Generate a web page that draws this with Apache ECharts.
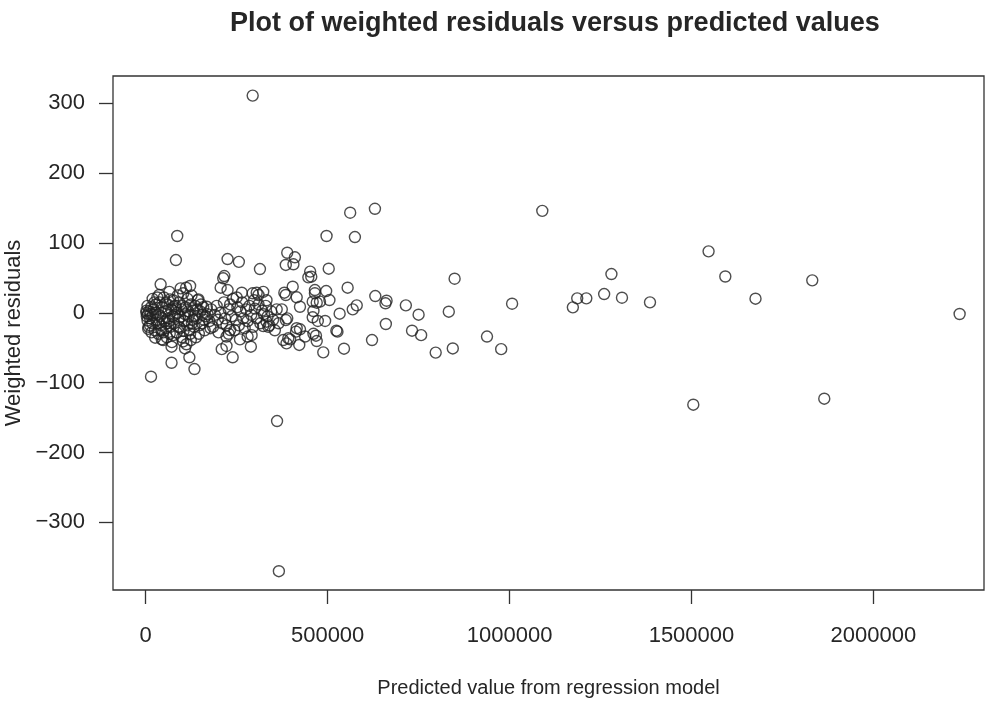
<!DOCTYPE html>
<html>
<head>
<meta charset="utf-8">
<script src="https://cdn.jsdelivr.net/npm/echarts@6/dist/echarts.min.js"></script>
<style>
  html, body { margin: 0; padding: 0; background: #fff; }
  #chart { width: 985px; height: 701px; }
</style>
</head>
<body>
<div id="chart"></div>
<script>
// Sparse / outlying points (predicted value, weighted residual)
const sparsePoints = [
  [294000,311],[361000,-155],[366000,-370],[1090000,146],[1547000,88],[1280000,55.5],[1593000,52],
  [1832000,46.5],[1186000,20.7],[1211000,20.7],[1174000,7.8],[1260000,26.9],[1309000,21.6],[1386000,15],
  [1676000,20.2],[2237000,-1.7],[1505000,-131.6],[1865000,-123]
];
// Mid-range points (roughly 300k - 1M)
const midPoints = [
  [497000,110],[575000,108.5],[503000,63.2],[849000,48.8],[496000,31.2],[555000,36],[505000,18.3],
  [631000,24],[662000,17.3],[659000,13.6],[580000,10.7],[569000,5],[715000,10.7],[1007000,13],
  [533000,-1.3],[750000,-2.7],[833000,1.6],[493000,-11.7],[479000,16],[660000,-16],[524000,-25.6],
  [527000,-27],[732000,-25.6],[757000,-32],[622000,-39],[488000,-56.6],[545000,-51.4],[797000,-57],
  [844000,-51],[938000,-34],[977000,-52],[562000,143.3],[630000,149],
  [314000,62.7],[389000,86],[410000,79.5],[385000,68.5],[406000,69.5],[452000,59],[455000,51.7],
  [447000,50.8],[404000,37.4],[381000,28.8],[385000,25.5],[415000,22.2],[424000,8.7],[465000,32.6],
  [465000,28],[459000,16],[470000,14.5],[461000,2.6],[459000,-6.4],[473000,-11.7],[374000,5],
  [389000,-7.9],[385000,-10.3],[415000,-22],[424000,-23.6],[413000,-27],[392000,-36.5],[378000,-39],
  [387000,-43.7],[397000,-38],[422000,-46],[438000,-34],[468000,-32.8],[470000,-40.4],[461000,-30],
  [323000,-19],[332000,-12.7],[337000,-20],[305000,28.8],[323000,30],[332000,18],[259000,-38],
  [280000,-34],[291000,-32]
];
// Low-range points (0 - 300k) outside the densest core
const lowPoints = [
  [86600,110],[83000,75.6],[225000,77],[256000,73],[41000,40.8],[122000,38.4],[111000,36],
  [216000,52.7],[213000,49.4],[206000,36],[225000,32.6],[264000,28.8],[250000,22],[294000,28],
  [310000,25.5],[298000,18],[37000,25.5],[67000,19.3],[145000,19.3],[168000,8.7],[2000,0],
  [5000,-11],[7000,-23],[14600,-91.5],[71000,-71.5],[120000,-63.7],[134000,-80.5],[239000,-63.7],
  [209000,-52],[222000,-47.5],[108000,-51],[124000,-39],[103000,-41],[71000,-48.5],[26000,-35.6],
  [48000,-39],[289000,-48.5],[232000,-24.6],[222000,-34]
];
// Dense core cluster
const corePoints = [
  [2000,3],[3000,-5],[8000,-20],[10000,2],[12000,-8],[15000,8],[18000,-15],[20000,-3],[22000,5],
  [25000,-25],[28000,12],[30000,-10],[12000,-18],[6000,-2],[32000,22],[35000,-30],[38000,15],
  [40000,-5],[42000,-18],[45000,8],[48000,-28],[50000,22],[52000,-12],[55000,2],[58000,-35],
  [60000,12],[34000,-2],[44000,-38],[56000,-22],[62000,-8],[65000,30],[68000,-20],[70000,5],
  [72000,-42],[75000,18],[78000,-15],[80000,-3],[82000,10],[85000,-28],[88000,25],[90000,-10],
  [66000,-30],[74000,-5],[86000,0],[92000,15],[95000,-22],[98000,5],[100000,-35],[103000,28],
  [106000,-12],[110000,8],[112000,-45],[115000,20],[118000,-5],[120000,-25],[124000,12],
  [127000,-15],[130000,3],[96000,35],[108000,-2],[122000,-30],[133000,-20],[136000,10],
  [140000,-8],[143000,18],[146000,-30],[150000,2],[155000,-15],[158000,8],[162000,-25],
  [165000,-5],[170000,-2],[138000,-35],[175000,-12],[180000,5],[185000,-20],[190000,-3],
  [195000,10],[200000,-28],[205000,0],[210000,-15],[215000,15],[218000,-8],[178000,-22],
  [198000,-10],[222000,-18],[228000,5],[228000,-30],[232000,12],[236000,-5],[240000,20],
  [244000,-25],[248000,-10],[252000,8],[256000,-18],[260000,2],[265000,15],[268000,-8],
  [272000,-22],[276000,5],[280000,-12],[285000,10],[290000,-3],[295000,-20],[300000,6],
  [305000,-8],[310000,12],[315000,-15],[320000,3],[325000,-2],[330000,10],[335000,-5],
  [340000,-18],[345000,2],[350000,-10],[355000,-25],[360000,5],[365000,-15],
  [5000,10],[16000,-28],[24000,15],[36000,-15],[46000,-8],[54000,14],[64000,-12],[76000,-32],
  [84000,6],[94000,-6],[102000,10],[114000,-18],[126000,25],[134000,-4],[148000,-18],
  [152000,12],[160000,-10],[14000,-2],[27000,0],[43000,-25],[63000,4],[77000,9],[104000,-26],
  [117000,2],[19000,20],[57000,-15],[91000,-20],[129000,-10],[142000,5],[156000,-3]
];
const xTicks = [0, 500000, 1000000, 1500000, 2000000];
const yTicks = [-300, -200, -100, 0, 100, 200, 300];

const allPoints = sparsePoints.concat(midPoints, lowPoints, corePoints);
const ink = '#262626';
const font = 'Liberation Sans, Arial, Helvetica, sans-serif';

const chart = echarts.init(document.getElementById('chart'), null, { renderer: 'canvas' });
chart.setOption({
  animation: false,
  backgroundColor: '#ffffff',
  title: {
    text: 'Plot of weighted residuals versus predicted values',
    left: 225,
    top: 5,
    textStyle: { fontFamily: font, fontSize: 27, fontWeight: 'bold', color: ink }
  },
  grid: {
    left: 113, top: 76, right: 1, bottom: 111,
    containLabel: false,
    outerBoundsMode: 'none',
    show: true, borderColor: '#333', borderWidth: 1.3, backgroundColor: 'transparent'
  },
  xAxis: {
    type: 'value',
    min: -89900,
    max: 2304000,
    name: 'Predicted value from regression model',
    nameLocation: 'middle',
    nameGap: 88,
    nameTextStyle: { fontFamily: font, fontSize: 20, color: ink },
    axisLine: { show: false, onZero: false },
    splitLine: { show: false },
    axisTick: { show: true, length: 14, inside: false, customValues: xTicks,
      lineStyle: { color: '#333', width: 1.3 } },
    axisLabel: { customValues: xTicks, margin: 35, fontFamily: font, fontSize: 22, color: ink,
      formatter: v => String(v) }
  },
  yAxis: {
    type: 'value',
    min: -396.9,
    max: 339.1,
    name: 'Weighted residuals',
    nameLocation: 'middle',
    nameGap: 80,
    nameTextStyle: { fontFamily: font, fontSize: 22, color: ink },
    axisLine: { show: false, onZero: false },
    splitLine: { show: false },
    axisTick: { show: true, length: 14, inside: false, customValues: yTicks,
      lineStyle: { color: '#333', width: 1.3 } },
    axisLabel: { customValues: yTicks, margin: 28, fontFamily: font, fontSize: 22, color: ink,
      formatter: v => (v < 0 ? '\u2212' + Math.abs(v) : String(v)) }
  },
  series: [{
    type: 'scatter',
    data: allPoints,
    symbol: 'circle',
    symbolSize: 11,
    itemStyle: { color: 'transparent', borderColor: '#222', borderWidth: 1.4 },
    emphasis: { disabled: true }
  }]
});
</script>
</body>
</html>
